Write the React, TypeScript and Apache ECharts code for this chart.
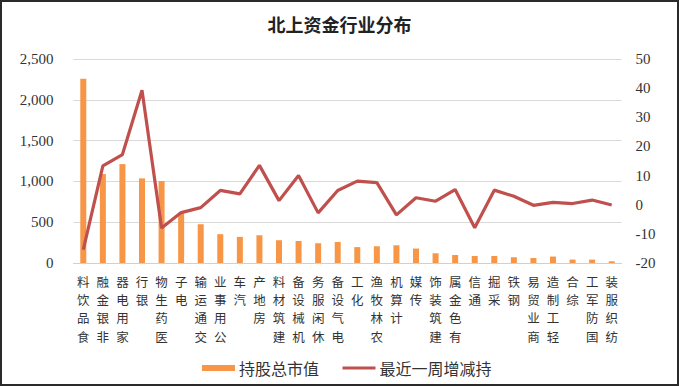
import React, { useEffect, useRef } from "react";
import * as echarts from "echarts";

const categories = [
  "食品饮料", "非银金融", "家用电器", "银行", "医药生物", "电子", "交通运输", "公用事业",
  "汽车", "房地产", "建筑材料", "机械设备", "休闲服务", "电气设备", "化工", "农林牧渔",
  "计算机", "传媒", "建筑装饰", "有色金属", "通信", "采掘", "钢铁", "商业贸易",
  "轻工制造", "综合", "国防军工", "纺织服装",
];
const marketValue = [
  2257, 1090, 1212, 1037, 1004, 607, 475, 353, 320, 340, 279, 270, 242, 258, 195, 205,
  217, 177, 119, 98, 86, 86, 70, 61, 79, 42, 42, 21,
];
const weeklyChange = [
  -15.4, 13.3, 17.2, 39.3, -8.0, -2.7, -1.0, 4.9, 3.7, 13.5, 1.4, 10.0, -2.8, 4.9, 8.1, 7.6,
  -3.5, 2.4, 1.2, 5.2, -7.9, 5.0, 2.9, -0.2, 0.8, 0.4, 1.6, -0.1,
];
const seriesNames = ["持股总市值", "最近一周增减持"];
const title = "北上资金行业分布";

const NUM_FONT = "Liberation Serif";
const CJK_FONT = "Noto Sans CJK SC";

export default function App() {
  const ref = useRef<HTMLDivElement>(null);
  useEffect(() => {
    if (!ref.current) return;
    const chart = echarts.init(ref.current, undefined, { renderer: "svg" });
    chart.setOption({
      animation: false,
      backgroundColor: "#ffffff",
      title: {
        text: title,
        left: "center",
        top: 10,
        textStyle: { fontFamily: CJK_FONT, fontSize: 18, fontWeight: "bold", color: "#222" },
      },
      graphic: [
        {
          type: "rect",
          shape: { x: 1, y: 1, width: 677, height: 384 },
          style: { fill: "none", stroke: "#2a2a2a", lineWidth: 2 },
          silent: true,
        },
      ],
      legend: {
        left: 197,
        top: 355,
        itemWidth: 33,
        itemHeight: 6,
        itemGap: 22,
        textStyle: { fontFamily: CJK_FONT, fontSize: 16, color: "#333", padding: [0, 0, 0, -1] },
        data: [
          { name: seriesNames[0], icon: "rect" },
          { name: seriesNames[1], itemStyle: { opacity: 0 }, lineStyle: { width: 3 } },
        ],
      },
      grid: { left: 73.5, right: 57.5, top: 59, bottom: 123, containLabel: false },
      xAxis: {
        type: "category",
        data: categories,
        axisLine: { show: true, lineStyle: { color: "#d0d0d0", width: 1 } },
        axisTick: { show: false },
        axisLabel: {
          interval: 0,
          margin: 9,
          fontSize: 12.5,
          lineHeight: 18.3,
          color: "#333",
          verticalAlign: "top",
          fontFamily: CJK_FONT,
          formatter: (v: string) => v.split("").reverse().join("\n"),
        },
      },
      yAxis: [
        {
          type: "value",
          min: 0,
          max: 2500,
          interval: 500,
          axisLine: { show: false },
          axisTick: { show: false },
          splitLine: { lineStyle: { color: "#d9d9d9", width: 1 } },
          axisLabel: {
            margin: 20,
            fontSize: 15,
            color: "#333",
            fontFamily: NUM_FONT,
            formatter: (v: number) => v.toLocaleString("en-US"),
          },
        },
        {
          type: "value",
          min: -20,
          max: 50,
          interval: 10,
          axisLine: { show: false },
          axisTick: { show: false },
          splitLine: { show: false },
          axisLabel: { margin: 14, fontSize: 15, color: "#333", fontFamily: NUM_FONT },
        },
      ],
      series: [
        {
          name: seriesNames[0],
          type: "bar",
          data: marketValue,
          barWidth: 6,
          yAxisIndex: 0,
          itemStyle: { color: "#f79646" },
        },
        {
          name: seriesNames[1],
          type: "line",
          data: weeklyChange,
          yAxisIndex: 1,
          symbol: "none",
          showSymbol: false,
          lineStyle: { color: "#c0504d", width: 3.2 },
          itemStyle: { color: "#c0504d" },
        },
      ],
    });
    return () => chart.dispose();
  }, []);
  return (
    <div
      ref={ref}
      style={{ position: "fixed", left: 0, top: 0, width: 679, height: 386 }}
    />
  );
}
